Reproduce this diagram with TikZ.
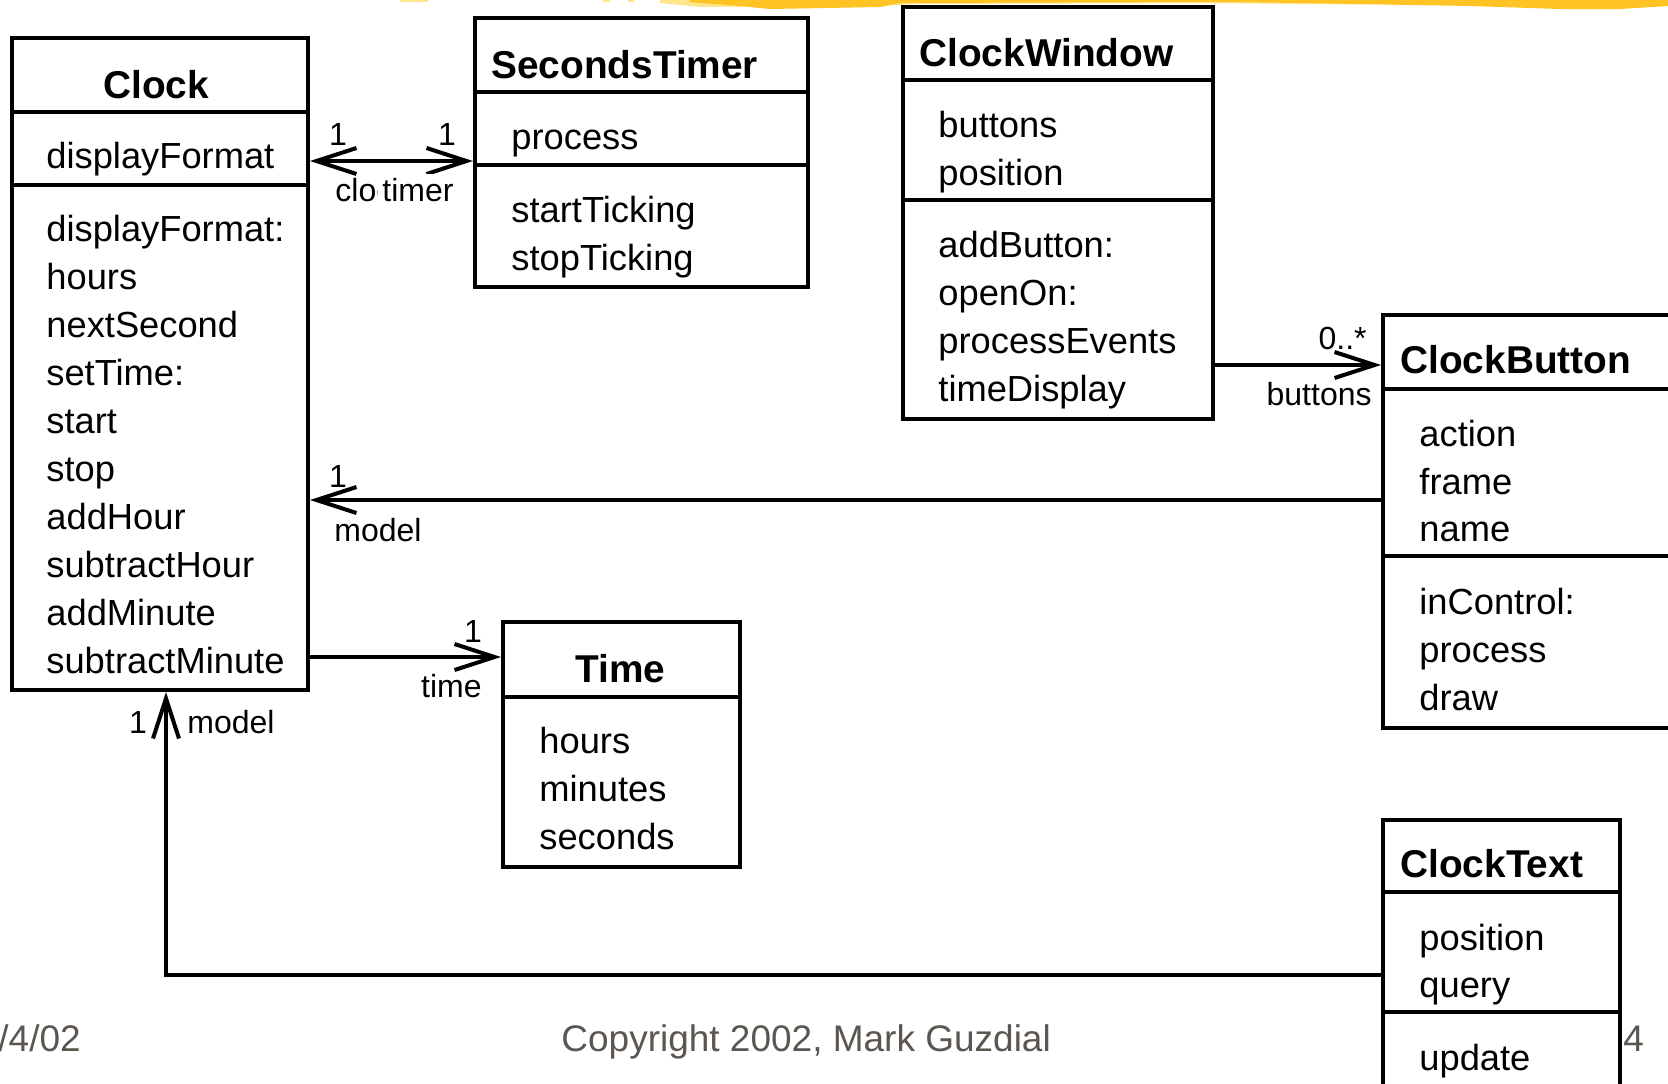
\documentclass[tikz,border=0pt]{standalone}
\usepackage{fontspec}
\setmainfont{Liberation Sans}
\usetikzlibrary{fit,arrows.meta}
\definecolor{footgray}{RGB}{92,86,80}
\definecolor{stripeL}{RGB}{255,230,140}
\definecolor{stripeD}{RGB}{255,195,35}
\tikzset{
  classbox/.style={draw, line width=2pt, inner sep=0pt, fill=white},
  divider/.style={line width=2pt},
  ctitle/.style={inner sep=0pt, anchor=base west, font=\fontsize{19.4}{22}\selectfont\bfseries},
  member/.style={inner sep=0pt, anchor=base west, font=\fontsize{18.15}{21}\selectfont},
  lbl/.style={inner sep=0pt, font=\fontsize{16}{18}\selectfont},
  assoc/.style={line width=2pt},
  openhead/.tip={Straight Barb[length=20pt,width=13pt,line cap=butt,line join=miter]},
  foot/.style={inner sep=0pt, anchor=base west, text=footgray, font=\fontsize{18.5}{21}\selectfont},
}
\begin{document}
\begin{tikzpicture}[x=0.5pt,y=-0.5pt]
\useasboundingbox (0,0) rectangle (1668,1083);
\clip (0,0) rectangle (1668,1083);
\fill[white] (0,0) rectangle (1668,1083);
% decorative stripe
\fill[stripeL] (400,0) rectangle (428,2);
\fill[stripeL] (603,0) rectangle (610,2);
\fill[stripeL] (628,0) rectangle (634,2);
\fill[stripeL] (660,0) -- (1668,0) -- (1668,5) -- (1560,6) -- (1480,5) -- (1300,4) -- (1220,3) -- (920,4) -- (880,6) -- (700,7) -- (660,3) -- cycle;
\fill[stripeD] (690,0) -- (1668,0) -- (1668,6) -- (1620,9) -- (1560,9) -- (1470,6) -- (1300,3) -- (1220,2) -- (900,3) -- (880,7) -- (770,9) -- (740,6) -- (690,2) -- cycle;
% footer
\node[foot] (fdate) at (-2,1051) {/4/02};
\node[foot] (fcopy) at (561,1051) {Copyright 2002, Mark Guzdial};
\node[foot] (fpage) at (1623,1051) {4};
% class boxes
\coordinate (clockA) at (12,38);   \coordinate (clockB) at (308,690);
\coordinate (timerA) at (475,18);  \coordinate (timerB) at (808,287);
\coordinate (winA) at (903,7);     \coordinate (winB) at (1213,419);
\coordinate (btnA) at (1383,315);  \coordinate (btnB) at (1700,728);
\coordinate (ctA) at (1383,820);   \coordinate (ctB) at (1620,1110);
\coordinate (timeA) at (503,622);  \coordinate (timeB) at (740,867);
\node[classbox, fit=(clockA)(clockB)] (clock) {};
\node[classbox, fit=(timerA)(timerB)] (timer) {};
\node[classbox, fit=(winA)(winB)] (win) {};
\node[classbox, fit=(btnA)(btnB)] (btn) {};
\node[classbox, fit=(ctA)(ctB)] (ctext) {};
\node[classbox, fit=(timeA)(timeB)] (time) {};
% dividers
\draw[divider] (clock.west |- 0,112) -- (clock.east |- 0,112);
\draw[divider] (clock.west |- 0,185) -- (clock.east |- 0,185);
\draw[divider] (timer.west |- 0,92) -- (timer.east |- 0,92);
\draw[divider] (timer.west |- 0,165) -- (timer.east |- 0,165);
\draw[divider] (win.west |- 0,80) -- (win.east |- 0,80);
\draw[divider] (win.west |- 0,200) -- (win.east |- 0,200);
\draw[divider] (btn.west |- 0,389) -- (btn.east |- 0,389);
\draw[divider] (btn.west |- 0,556) -- (btn.east |- 0,556);
\draw[divider] (ctext.west |- 0,892) -- (ctext.east |- 0,892);
\draw[divider] (ctext.west |- 0,1012) -- (ctext.east |- 0,1012);
\draw[divider] (time.west |- 0,697) -- (time.east |- 0,697);
% Clock
\node[ctitle] (clockT) at (103,98) {Clock};
\node[member] (clockA1) at (46,168) {displayFormat};
\node[member] (clockO1) at (46,241.5) {displayFormat:};
\node[member] (clockO2) at (46,289.4) {hours};
\node[member] (clockO3) at (46,337.4) {nextSecond};
\node[member] (clockO4) at (46,385.3) {setTime:};
\node[member] (clockO5) at (46,433.3) {start};
\node[member] (clockO6) at (46,481.2) {stop};
\node[member] (clockO7) at (46,529.1) {addHour};
\node[member] (clockO8) at (46,577.1) {subtractHour};
\node[member] (clockO9) at (46,625) {addMinute};
\node[member] (clockO10) at (46,673) {subtractMinute};
% SecondsTimer
\node[ctitle] (timerT) at (491,78) {SecondsTimer};
\node[member] (timerA1) at (511,149) {process};
\node[member] (timerO1) at (511,222) {startTicking};
\node[member] (timerO2) at (511,270) {stopTicking};
% ClockWindow
\node[ctitle] (winT) at (919,66) {ClockWindow};
\node[member] (winA1) at (938,137) {buttons};
\node[member] (winA2) at (938,185) {position};
\node[member] (winO1) at (938,257) {addButton:};
\node[member] (winO2) at (938,305) {openOn:};
\node[member] (winO3) at (938,353) {processEvents};
\node[member] (winO4) at (938,401) {timeDisplay};
% ClockButton
\node[ctitle] (btnT) at (1400,373) {ClockButton};
\node[member] (btnA1) at (1419,446) {action};
\node[member] (btnA2) at (1419,494) {frame};
\node[member] (btnA3) at (1419,541) {name};
\node[member] (btnO1) at (1419,614) {inControl:};
\node[member] (btnO2) at (1419,662) {process};
\node[member] (btnO3) at (1419,710) {draw};
% ClockText
\node[ctitle] (ctT) at (1400,877) {ClockText};
\node[member] (ctA1) at (1419,950) {position};
\node[member] (ctA2) at (1419,997) {query};
\node[member] (ctO1) at (1419,1070) {update};
% Time
\node[ctitle] (timeT) at (575,682) {Time};
\node[member] (timeA1) at (539,753) {hours};
\node[member] (timeA2) at (539,801) {minutes};
\node[member] (timeA3) at (539,849) {seconds};
% connectors
\draw[assoc, {openhead}-{openhead}] (clock.east |- 0,161) -- (timer.west |- 0,161);
\draw[assoc, -{openhead}] (win.east |- 0,365) -- (btn.west |- 0,365);
\draw[assoc, -{openhead}] (btn.west |- 0,500) -- (clock.east |- 0,500);
\draw[assoc, -{openhead}] (clock.east |- 0,657) -- (time.west |- 0,657);
\draw[assoc, -{openhead}] (ctext.west |- 0,975) -| (clock.south -| 166,0);
% labels
\node[lbl, anchor=base] (l1) at (338,145) {1};
\node[lbl, anchor=base] (l2) at (447,145) {1};
\node[lbl, anchor=base west] (lclock) at (335,201) {clock};
\node[lbl, anchor=base east, fill=white, inner ysep=2pt] (ltimer) at (454,201) {\hspace*{2pt}timer};
\node[lbl, anchor=base east] (l3) at (1367,349) {0..*};
\node[lbl, anchor=base east] (lbuttons) at (1372,405) {buttons};
\node[lbl, anchor=base] (l4) at (338,487) {1};
\node[lbl, anchor=base west] (lmodel1) at (334,541) {model};
\node[lbl, anchor=base] (l5) at (473,642) {1};
\node[lbl, anchor=base east] (ltime) at (482,697) {time};
\node[lbl, anchor=base] (l6) at (138,733) {1};
\node[lbl, anchor=base west] (lmodel2) at (187,733) {model};
\end{tikzpicture}
\end{document}
